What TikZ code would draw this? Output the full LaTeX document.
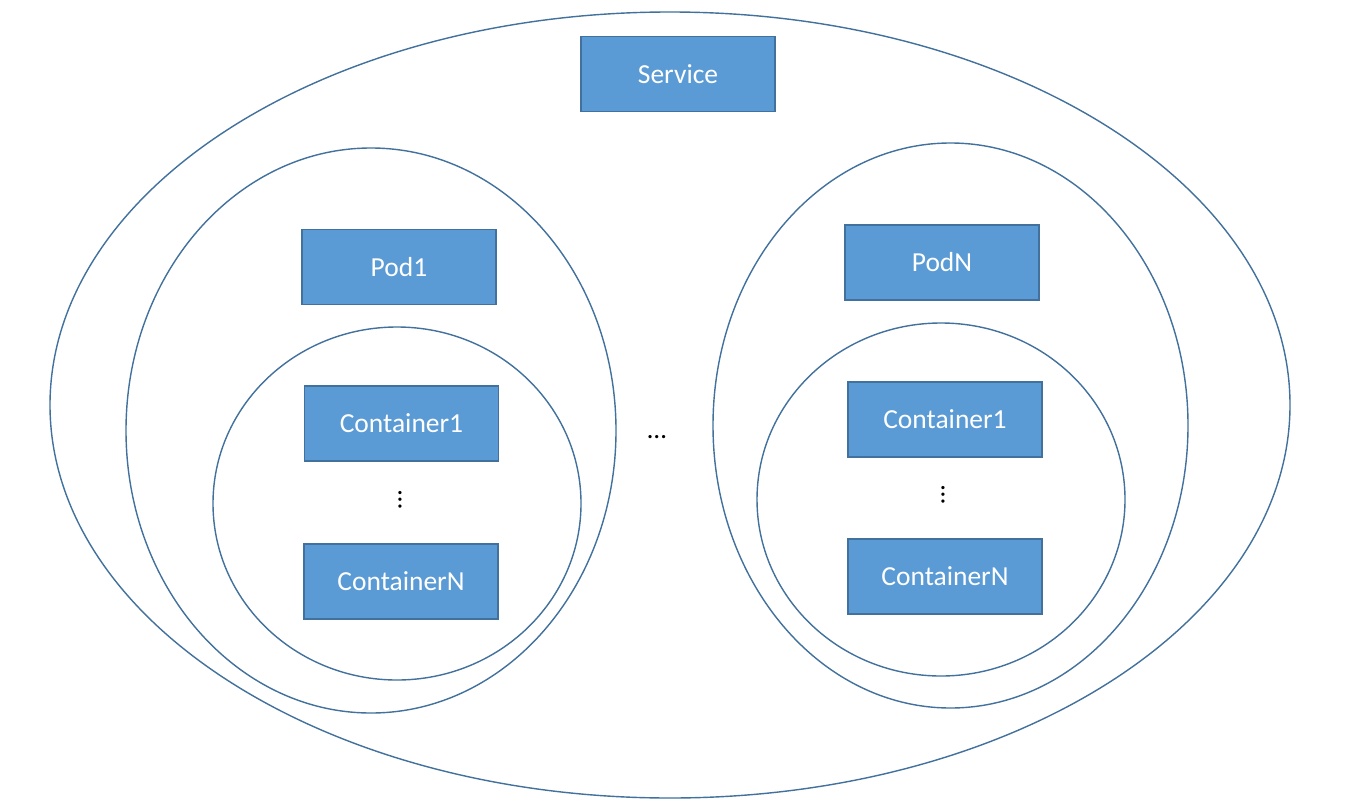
\documentclass[tikz,border=0pt]{standalone}
\usepackage{fontspec}
\setmainfont{Carlito}
\definecolor{boxfill}{HTML}{5B9BD5}
\definecolor{boxline}{HTML}{41719C}
\definecolor{ringline}{HTML}{41719C}
\begin{document}
\begin{tikzpicture}[x=1pt,y=-1pt,
  bluebox/.style={draw=boxline,line width=1.8pt,fill=boxfill,text=white,
    minimum width=194pt,minimum height=75pt,inner sep=0pt,font=\fontsize{27.5}{31}\selectfont},
  ring/.style={draw=ringline,line width=1.4pt},
  dotstext/.style={inner sep=0pt,font=\fontsize{27}{30}\selectfont}]
\useasboundingbox (0,0) rectangle (1348,808);
\fill[white] (0,0) rectangle (1348,808);
% ellipses
\draw[ring] (670,405) ellipse [x radius=620, y radius=393];
\draw[ring] (371,430.5) ellipse [x radius=245, y radius=282.5];
\draw[ring] (397,503.5) ellipse [x radius=184, y radius=176.5];
\draw[ring] (950.5,425.5) ellipse [x radius=237.5, y radius=282.5];
\draw[ring] (941,499.5) ellipse [x radius=184, y radius=176.5];
% boxes
\node[bluebox] (service) at (678,74) {Service};
\node[bluebox] (pod1) at (399,267) {Pod1};
\node[bluebox] (c1l) at (401.5,423.5) {Container1};
\node[bluebox] (cnl) at (401,581.5) {ContainerN};
\node[bluebox] (podn) at (942,262.5) {PodN};
\node[bluebox] (c1r) at (945,419.5) {Container1};
\node[bluebox] (cnr) at (945,576.5) {ContainerN};
% dots
\node[dotstext] (hdots) at (657,437) {…};
\node[dotstext,rotate=-90] (vdotsl) at (400,500) {…};
\node[dotstext,rotate=-90] (vdotsr) at (943,495) {…};
\end{tikzpicture}
\end{document}
